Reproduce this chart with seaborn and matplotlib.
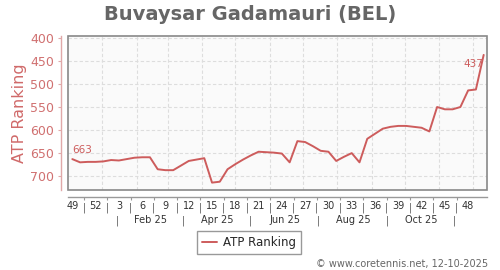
import matplotlib
matplotlib.use("Agg")
import matplotlib.pyplot as plt
import matplotlib.transforms as mtransforms
from matplotlib.patches import Rectangle
from matplotlib.ticker import FixedLocator, FixedFormatter
import matplotlib.dates as mdates
import pandas as pd
import seaborn as sns

# ---- data ----
player = "Buvaysar Gadamauri (BEL)"
week_numbers = [49, 50, 51, 52] + list(range(1, 51))
rankings = [663, 670, 669, 669, 668, 665, 666, 663, 660, 659,
            659, 685, 687, 687, 677, 667, 664, 661, 714, 712,
            685, 674, 664, 655, 647, 648, 649, 651, 670, 624,
            626, 635, 645, 647, 667, 658, 650, 670, 619, 608,
            597, 593, 591, 591, 593, 595, 603, 550, 555, 555,
            550, 514, 512, 437]
month_labels = ["Feb 25", "Apr 25", "Jun 25", "Aug 25", "Oct 25"]
y_ticks = [400, 450, 500, 550, 600, 650, 700]
series_name = "ATP Ranking"
credit = "\u00a9 www.coretennis.net, 12-10-2025"

dates = pd.date_range("2024-12-05", periods=len(rankings), freq="7D")
df = pd.DataFrame({"date": dates, "rank": rankings})

RED = "#cd5c5c"
sns.set_style("white")
plt.rcParams["font.family"] = ["DejaVu Sans"]

fig = plt.figure(figsize=(5, 2.7), dpi=100)
ax = fig.add_axes([68 / 500, 80 / 270, 419 / 500, 154 / 270])
ax.set_facecolor("#fafafa")

sns.lineplot(data=df, x="date", y="rank", ax=ax, color=RED, linewidth=1.4,
             label=series_name, legend=False)

ax.set_ylim(730, 396)
ax.set_xlim(dates[0] - pd.Timedelta(days=3.9), dates[-1] + pd.Timedelta(days=3.0))

# y axis
ax.set_yticks(y_ticks)
ax.set_yticklabels([str(v) for v in y_ticks])
ax.tick_params(axis="y", colors="#e0a8a8", labelcolor="#d07070", labelsize=9,
               length=2, width=0.8, pad=3, left=True)
ax.set_ylabel(series_name, color="#d06a6a", fontsize=11.5)
ax.yaxis.set_label_coords(-0.098, 0.5)

# x axis: week numbers at every third week, separators between
tick_dates = [mdates.date2num(d) for d in dates[::3]]
ax.xaxis.set_major_locator(FixedLocator(tick_dates))
ax.xaxis.set_major_formatter(FixedFormatter([str(w) for w in week_numbers[::3]]))
mid_dates = [mdates.date2num(d + pd.Timedelta(days=10.5)) for d in dates[::3][:-1]]
ax.xaxis.set_minor_locator(FixedLocator(mid_dates))
ax.xaxis.set_minor_formatter(FixedFormatter(["|"] * len(mid_dates)))
ax.tick_params(axis="x", which="major", length=0, pad=3.2, labelsize=7, labelcolor="#333333")
ax.tick_params(axis="x", which="minor", length=2, width=0.8, color="#999999",
               pad=1.8, labelsize=7, labelcolor="#555555", bottom=True)
ax.set_xlabel("")

# grid: horizontal at y ticks, vertical at month starts
for y in y_ticks:
    ax.axhline(y, color="#dddddd", linestyle=(0, (3, 2)), linewidth=0.8, zorder=0)
for m in range(1, 13):
    ax.axvline(pd.Timestamp(2025, m, 1), color="#dddddd", linestyle=(0, (3, 2)),
               linewidth=0.8, zorder=0)

# spines
for s in ["top", "right"]:
    ax.spines[s].set_visible(False)
ax.spines["left"].set_position(("outward", 5))
ax.spines["left"].set_color("#e0a8a8")
ax.spines["left"].set_linewidth(1.0)
ax.spines["bottom"].set_position(("outward", 5))
ax.spines["bottom"].set_color("#999999")
ax.spines["bottom"].set_linewidth(1.0)
ax.add_patch(Rectangle((0, 0), 1, 1, transform=ax.transAxes, fill=False,
                       edgecolor="#888888", linewidth=1.2, zorder=5, clip_on=False))

# month row
trans = mtransforms.blended_transform_factory(ax.transData, ax.transAxes)
seps = [pd.Timestamp(2025, m, 15) for m in (1, 3, 5, 7, 9, 11)]
for s in seps:
    ax.text(s, -0.198, "|", transform=trans, ha="center", va="center",
            fontsize=7, color="#555555")
for i, lab in enumerate(month_labels):
    mid = seps[i] + (seps[i + 1] - seps[i]) / 2
    ax.text(mid, -0.198, lab, transform=trans, ha="center", va="center",
            fontsize=7, color="#333333")

# annotations of first and last values
ax.annotate(str(rankings[0]), (dates[0], rankings[0]), xytext=(0, 6.5),
            textcoords="offset points", ha="left", va="center",
            fontsize=7.5, color=RED)
ax.annotate(str(rankings[-1]), (dates[-1], rankings[-1]), xytext=(0, -6.5),
            textcoords="offset points", ha="right", va="center",
            fontsize=7.5, color=RED)

# title, legend, credit
fig.text(0.5, 0.948, player, ha="center", va="center", fontsize=14,
         fontweight="bold", color="#666666")
handles, labels = ax.get_legend_handles_labels()
fig.legend(handles, labels, loc="center", bbox_to_anchor=(0.498, 0.102),
           fontsize=8.5, frameon=True, fancybox=False, edgecolor="#999999",
           framealpha=1, handlelength=1.2, handletextpad=0.5, borderpad=0.45)
fig.text(0.976, 0.022, credit, ha="right", va="center", fontsize=7, color="#666666")

fig.savefig("out.png", dpi=100)
